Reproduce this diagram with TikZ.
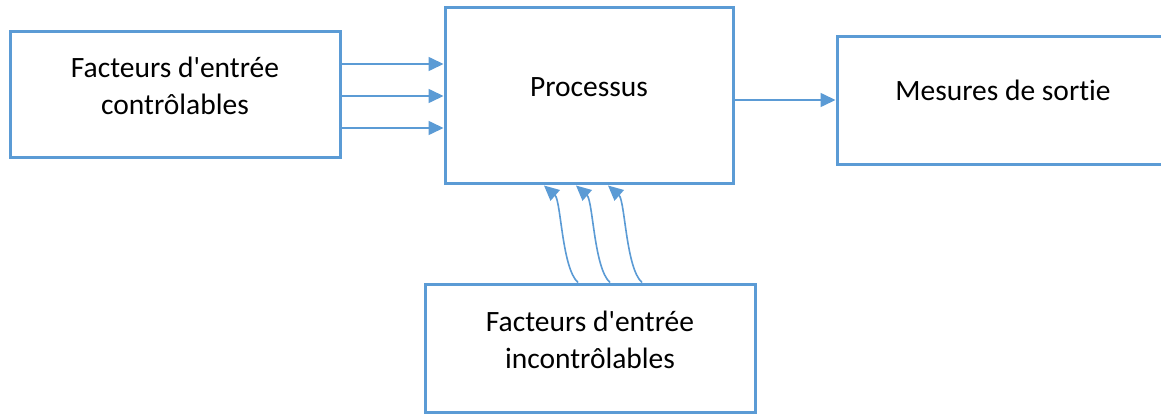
\documentclass[tikz,border=0pt]{standalone}
\usepackage{fontspec}
\setmainfont{Carlito}[Ligatures={NoCommon,NoRequired}]
\usetikzlibrary{arrows.meta}
\definecolor{accent}{HTML}{5B9BD5}
\tikzset{
  box/.style={draw=accent, line width=3pt, fill=white, inner sep=0pt},
  txt/.style={font=\fontsize{29.5}{37}\selectfont, align=center, text=black},
  flow/.style={draw=accent, line width=1.6pt, -{Triangle[length=15pt,width=14pt]}},
}
\newcommand{\apos}{\textquotesingle}
\begin{document}
\begin{tikzpicture}[x=1pt,y=-1pt]
\clip (0,0) rectangle (1161,414);
\fill[white] (0,0) rectangle (1161,414);

% the four blocks
\node[box, minimum width=330pt, minimum height=126pt,
      label={[txt,yshift=9pt]center:Facteurs d\apos entrée\\contrôlables}] (ctrl) at (175,95) {};
\node[box, minimum width=288pt, minimum height=176pt,
      label={[txt,yshift=9pt]center:Processus}] (proc) at (589,96) {};
\node[box, minimum width=332pt, minimum height=128pt,
      label={[txt,yshift=11pt]center:Mesures de sortie}] (out) at (1003,101) {};
\node[box, minimum width=330pt, minimum height=128pt,
      label={[txt,yshift=8pt]center:Facteurs d\apos entrée\\incontrôlables}] (unctrl) at (590,348) {};

% controllable inputs
\draw[flow] (ctrl.east |- 0,64) -- (proc.west |- 0,64);
\draw[flow] (ctrl.east |- 0,96) -- (proc.west |- 0,96);
\draw[flow] (ctrl.east |- 0,128) -- (proc.west |- 0,128);

% output
\draw[flow] (proc.east |- 0,100) -- (out.west |- 0,100);

% uncontrollable inputs
\foreach \dx in {0,32,64}{
  \draw[flow] ([xshift=-12pt+\dx pt]unctrl.north) .. controls +(-16,-14) and +(17,15) .. ([xshift=-45pt+\dx pt]proc.south);
}
\end{tikzpicture}
\end{document}
